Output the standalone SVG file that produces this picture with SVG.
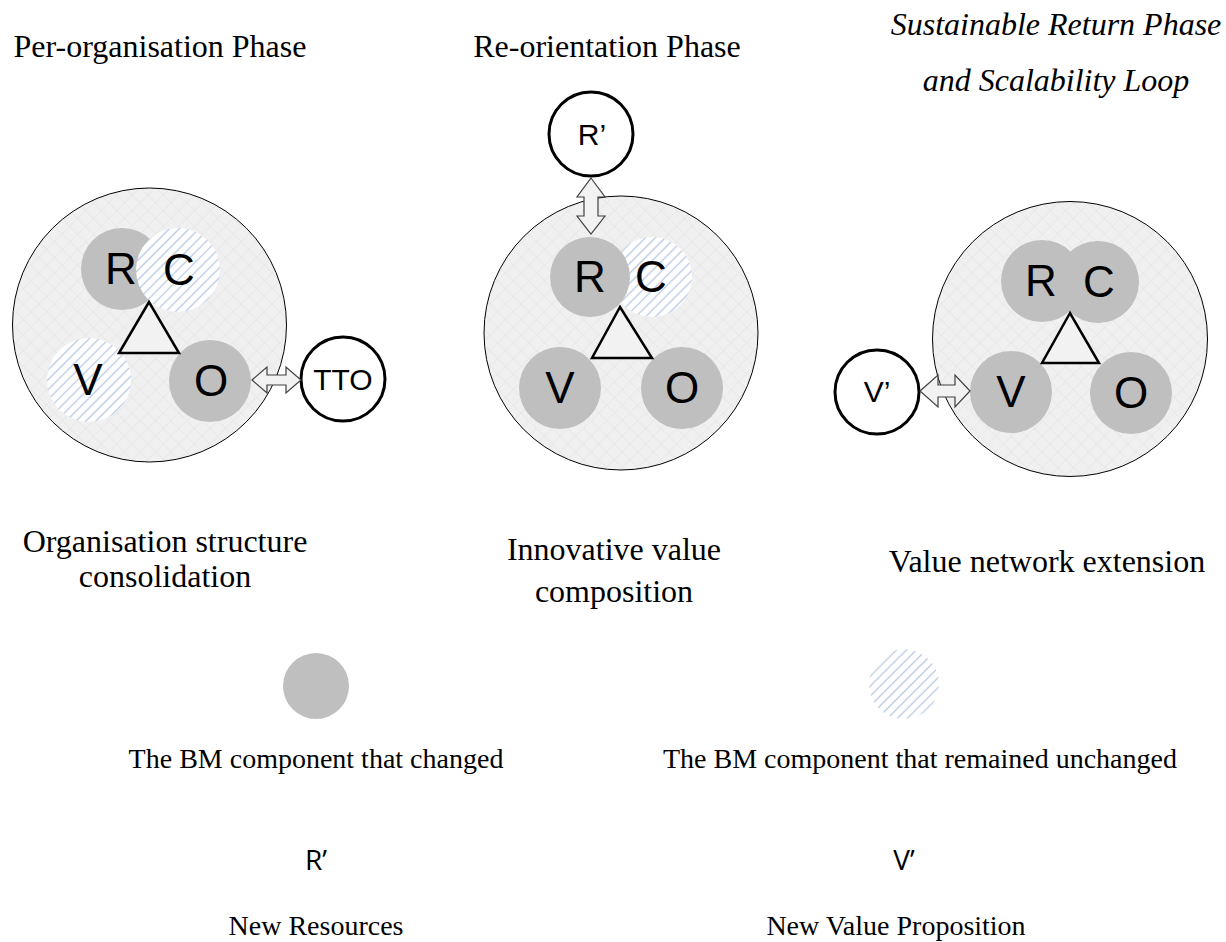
<svg xmlns="http://www.w3.org/2000/svg" width="1226" height="942" viewBox="0 0 1226 942">
<style>
.serif{font-family:"Liberation Serif","Times New Roman",serif;fill:#000}
.sans{font-family:"Liberation Sans",Arial,sans-serif;fill:#000}
.big{fill:url(#grid);stroke:#000;stroke-width:1}
.chg{fill:#bfbfbf}
.unc{fill:url(#hatch)}
.lbl{font-family:"Liberation Sans",Arial,sans-serif;font-size:44px;text-anchor:middle}
.ext{fill:#fff;stroke:#000;stroke-width:3}
.tri{fill:#f2f2f2;stroke:#000;stroke-width:2.5;stroke-linejoin:miter}
.arr{fill:#f2f2f2;stroke:#404040;stroke-width:1.2;stroke-linejoin:miter}
</style>
<defs>
<pattern id="grid" patternUnits="userSpaceOnUse" width="11" height="11" patternTransform="rotate(45)">
<rect width="11" height="11" fill="#f0f0f0"/>
<path d="M0,0H11M0,0V11" stroke="#e2e2e2" stroke-width="1"/>
</pattern>
<pattern id="hatch" patternUnits="userSpaceOnUse" width="7" height="7" patternTransform="rotate(45)">
<rect width="7" height="7" fill="#fff"/>
<path d="M1.5,0V7" stroke="#b8c9e4" stroke-width="1.3"/>
</pattern>
</defs>
<rect width="1226" height="942" fill="#fff"/>

<g id="titles">
<text class="serif" x="160" y="57" font-size="32" text-anchor="middle">Per-organisation Phase</text>
<text class="serif" x="607" y="57" font-size="32" text-anchor="middle">Re-orientation Phase</text>
<text class="serif" x="1056" y="35" font-size="32" font-style="italic" text-anchor="middle">Sustainable Return Phase</text>
<text class="serif" x="1056" y="91" font-size="32" font-style="italic" text-anchor="middle">and Scalability Loop</text>
</g>

<g id="phase1">
<circle class="big" cx="149.5" cy="325" r="137"/>
<circle class="chg" cx="122" cy="269" r="41"/>
<text class="lbl" x="121" y="284">R</text>
<circle class="unc" cx="178" cy="270" r="42"/>
<text class="lbl" x="179" y="285">C</text>
<circle class="unc" cx="89" cy="380" r="42"/>
<text class="lbl" x="88" y="395">V</text>
<circle class="chg" cx="210" cy="381" r="41"/>
<text class="lbl" x="211" y="396">O</text>
<polygon class="tri" points="149,302 119,353 179,353"/>
</g>

<g id="tto">
<circle class="ext" cx="343" cy="379" r="42"/>
<text class="sans" x="343" y="390" font-size="30" text-anchor="middle">TTO</text>
</g>

<g id="phase2">
<circle class="big" cx="621" cy="333" r="137"/>
<circle class="unc" cx="652" cy="277" r="40"/>
<circle class="chg" cx="590" cy="277" r="40"/>
<text class="lbl" x="590" y="292">R</text>
<text class="lbl" x="651" y="292">C</text>
<circle class="chg" cx="560" cy="388" r="41"/>
<text class="lbl" x="560" y="403">V</text>
<circle class="chg" cx="682" cy="388" r="41"/>
<text class="lbl" x="682" y="403">O</text>
<polygon class="tri" points="620,307 592,358 652,358"/>
</g>

<g id="rprime">
<circle class="ext" cx="591" cy="134" r="42"/>
<text class="sans" x="592" y="145" font-size="30" text-anchor="middle">R’</text>
</g>

<g id="phase3">
<circle class="big" cx="1070" cy="339" r="137.5"/>
<circle class="chg" cx="1042" cy="281" r="41"/>
<text class="lbl" x="1041" y="296">R</text>
<circle class="chg" cx="1098" cy="282" r="41"/>
<text class="lbl" x="1099" y="297">C</text>
<circle class="chg" cx="1011" cy="392" r="41"/>
<text class="lbl" x="1011" y="407">V</text>
<circle class="chg" cx="1131" cy="393" r="41"/>
<text class="lbl" x="1131" y="408">O</text>
<polygon class="tri" points="1070,313 1042,363 1099,363"/>
</g>

<g id="vprime">
<circle class="ext" cx="877" cy="392" r="42"/>
<text class="sans" x="877" y="402" font-size="30" text-anchor="middle">V’</text>
</g>

<g id="connectors">
<path class="arr" d="M252,380 L267,367 L267,375 L286,375 L286,367 L301,380 L286,393 L286,385 L267,385 L267,393 Z"/>
<path class="arr" d="M591,178 L605,197 L598,197 L598,216 L605,216 L591,234 L577,216 L584,216 L584,197 L577,197 Z"/>
<path class="arr" d="M920,391 L938,375 L938,385 L955,385 L955,375 L970,391 L955,407 L955,397 L938,397 L938,407 Z"/>
</g>

<g id="captions">
<text class="serif" x="165" y="552" font-size="32" text-anchor="middle">Organisation structure</text>
<text class="serif" x="165" y="587" font-size="32" text-anchor="middle">consolidation</text>
<text class="serif" x="614" y="560" font-size="32" text-anchor="middle">Innovative value</text>
<text class="serif" x="614" y="602" font-size="32" text-anchor="middle">composition</text>
<text class="serif" x="1047" y="572" font-size="32" text-anchor="middle">Value network extension</text>
</g>

<g id="legend-changed">
<circle class="chg" cx="316" cy="686" r="33"/>
<text class="serif" x="316" y="768" font-size="28" text-anchor="middle">The BM component that changed</text>
</g>
<g id="legend-unchanged">
<circle class="unc" cx="904" cy="684" r="35" style="fill:url(#hatch)"/>
<text class="serif" x="920" y="768" font-size="28" text-anchor="middle">The BM component that remained unchanged</text>
</g>
<g id="legend-r">
<text x="316" y="870" font-size="28" text-anchor="middle" style="font-family:'Open Sans','Noto Sans',sans-serif">R’</text>
<text class="serif" x="316" y="935" font-size="28" text-anchor="middle">New Resources</text>
</g>
<g id="legend-v">
<text x="904" y="870" font-size="28" text-anchor="middle" style="font-family:'Open Sans','Noto Sans',sans-serif">V’</text>
<text class="serif" x="896" y="935" font-size="28" text-anchor="middle">New Value Proposition</text>
</g>
</svg>
